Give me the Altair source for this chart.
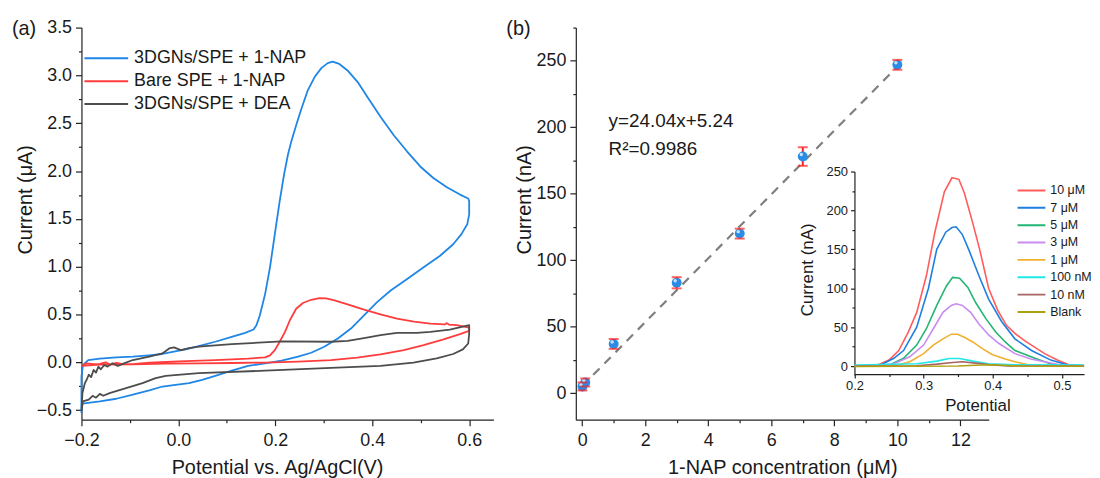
import altair as alt
import pandas as pd

FONT = "Liberation Sans"
INK = "#1a1a1a"

# ---------------- Panel (a): cyclic voltammograms ----------------
cv_names = ["3DGNs/SPE + 1-NAP", "Bare SPE + 1-NAP", "3DGNs/SPE + DEA"]
cv_colors = ["#1f86e6", "#ff3c3c", "#4d4d4d"]

blue_x = [-0.2, -0.2, -0.197, -0.186, -0.162, -0.128, -0.094, -0.06, -0.033, -0.012, 0.015, 0.042,
          0.076, 0.11, 0.138, 0.155, 0.161, 0.168, 0.179, 0.189, 0.199, 0.209, 0.218, 0.226, 0.233,
          0.243, 0.254, 0.267, 0.281, 0.295, 0.308, 0.318, 0.332, 0.349, 0.37, 0.39, 0.417, 0.444,
          0.472, 0.499, 0.526, 0.554, 0.581, 0.598, 0.6, 0.6, 0.596, 0.584, 0.567, 0.54, 0.506,
          0.472, 0.438, 0.41, 0.383, 0.356, 0.329, 0.301, 0.274, 0.247, 0.213, 0.179, 0.144, 0.11,
          0.076, 0.049, 0.022, -0.006, -0.033, -0.06, -0.094, -0.128, -0.162, -0.19, -0.199, -0.2]
blue_y = [-0.53, -0.15, -0.03, 0.024, 0.038, 0.052, 0.059, 0.073, 0.087, 0.11, 0.135, 0.17,
          0.215, 0.266, 0.308, 0.343, 0.388, 0.49, 0.716, 0.993, 1.34, 1.685, 1.962, 2.17, 2.31,
          2.48, 2.654, 2.844, 2.983, 3.076, 3.128, 3.145, 3.12, 3.052, 2.93, 2.775, 2.567, 2.377,
          2.204, 2.048, 1.927, 1.83, 1.754, 1.713, 1.685, 1.547, 1.443, 1.34, 1.235, 1.114, 0.993,
          0.872, 0.751, 0.63, 0.491, 0.353, 0.249, 0.163, 0.1, 0.059, 0.017, -0.01, -0.038, -0.087,
          -0.142, -0.183, -0.218, -0.235, -0.253, -0.294, -0.339, -0.381, -0.408, -0.426, -0.432, -0.53]

red_x = [-0.2, -0.19, -0.175, -0.162, -0.15, -0.14, -0.128, -0.115, -0.094, -0.06, 0.0, 0.076,
         0.144, 0.179, 0.189, 0.199, 0.209, 0.22, 0.23, 0.243, 0.257, 0.274, 0.291, 0.305, 0.322,
         0.349, 0.383, 0.417, 0.451, 0.486, 0.52, 0.55, 0.554, 0.558, 0.574, 0.6, 0.6, 0.581,
         0.547, 0.506, 0.465, 0.417, 0.369, 0.315, 0.247, 0.179, 0.11, 0.042, -0.026, -0.094,
         -0.162, -0.2]
red_y = [-0.038, -0.01, -0.02, -0.017, 0.0, -0.025, -0.005, -0.02, -0.02, -0.003, 0.01, 0.024,
         0.038, 0.052, 0.073, 0.128, 0.215, 0.318, 0.44, 0.56, 0.62, 0.654, 0.671, 0.668, 0.647,
         0.606, 0.55, 0.502, 0.457, 0.426, 0.405, 0.396, 0.41, 0.395, 0.388, 0.363, 0.329, 0.294,
         0.239, 0.18, 0.128, 0.083, 0.048, 0.024, 0.007, -0.003, -0.007, -0.01, -0.014, -0.021,
         -0.024, -0.038]

grey_x = [-0.2, -0.198, -0.193, -0.189, -0.185, -0.18, -0.175, -0.17, -0.165, -0.16, -0.153, -0.146,
          -0.136, -0.125, -0.115, -0.094, -0.06, -0.033, -0.019, -0.009, 0.005, 0.022, 0.042, 0.11,
          0.213, 0.315, 0.349, 0.383, 0.417, 0.451, 0.492, 0.52, 0.56, 0.6, 0.6, 0.598, 0.587,
          0.567, 0.533, 0.485, 0.417, 0.315, 0.179, 0.042, -0.026, -0.047, -0.074, -0.108, -0.142,
          -0.155, -0.162, -0.17, -0.177, -0.185, -0.197, -0.2]
grey_y = [-0.51, -0.32, -0.218, -0.18, -0.13, -0.155, -0.08, -0.107, -0.045, -0.073, -0.028, -0.045,
          -0.01, -0.038, -0.017, 0.024, 0.059, 0.093, 0.145, 0.156, 0.128, 0.149, 0.163, 0.19,
          0.218, 0.215, 0.225, 0.253, 0.284, 0.308, 0.308, 0.318, 0.343, 0.388, 0.301, 0.197, 0.135,
          0.087, 0.042, -0.003, -0.038, -0.059, -0.087, -0.114, -0.142, -0.166, -0.218, -0.27, -0.322,
          -0.35, -0.33, -0.37, -0.35, -0.39, -0.408, -0.51]

a_x_ticks = [-0.2, -0.1, 0.0, 0.1, 0.2, 0.3, 0.4, 0.5, 0.6]
a_x_major = [-0.2, 0.0, 0.2, 0.4, 0.6]
a_y_ticks = [-0.5, -0.25, 0.0, 0.25, 0.5, 0.75, 1.0, 1.25, 1.5, 1.75, 2.0, 2.25, 2.5, 2.75, 3.0, 3.25, 3.5]
a_y_major = [-0.5, 0.0, 0.5, 1.0, 1.5, 2.0, 2.5, 3.0, 3.5]

# ---------------- Panel (b): calibration ----------------
conc = [0.01, 0.1, 1, 3, 5, 7, 10]
current = [5, 8, 37, 83, 120, 178, 247]
err = [3, 3, 3.7, 4.2, 3.7, 7, 3.7]
fit_x = [0, 10]
fit_y = [5.24, 245.64]
eq_text = ["y=24.04x+5.24", "R²=0.9986"]
eq_x = [0.84, 0.84]
eq_y = [204.5, 184]

b_x_ticks = [0, 1, 2, 3, 4, 5, 6, 7, 8, 9, 10, 11, 12]
b_x_major = [0, 2, 4, 6, 8, 10, 12]
b_y_ticks = [0, 25, 50, 75, 100, 125, 150, 175, 200, 225, 250, 275]
b_y_major = [0, 50, 100, 150, 200, 250]

# ---------------- Inset: DPV curves ----------------
dpv_names = ["10 μM", "7 μM", "5 μM", "3 μM", "1 μM", "100 nM", "10 nM", "Blank"]
dpv_colors = ["#ff5c5c", "#1e7fe0", "#22b573", "#c88cf0", "#f0b030", "#20e8e8", "#a86464", "#b0a010"]

p10_x = [0.2, 0.233, 0.25, 0.264, 0.278, 0.29, 0.304, 0.316, 0.33, 0.341, 0.351, 0.359, 0.371,
         0.381, 0.394, 0.407, 0.42, 0.432, 0.447, 0.475, 0.494, 0.511, 0.532]
p10_y = [0, 1, 7.7, 20, 44, 69, 116, 171, 224, 242, 240, 222, 184, 150, 100, 72, 52, 42, 32, 16,
         7.6, 1.3, 0.5]
p7_x = [0.2, 0.238, 0.257, 0.271, 0.29, 0.307, 0.319, 0.332, 0.341, 0.347, 0.356, 0.366, 0.38,
        0.394, 0.413, 0.432, 0.456, 0.484, 0.508, 0.532]
p7_y = [0, 1.3, 10, 20, 50, 100, 150, 172, 178, 179, 169, 148, 116, 86, 57, 35, 20, 7.7, 1.3, 0.5]
p5_x = [0.2, 0.25, 0.271, 0.29, 0.304, 0.319, 0.333, 0.342, 0.352, 0.364, 0.375, 0.39, 0.404,
        0.418, 0.432, 0.461, 0.485, 0.503, 0.532]
p5_y = [0, 1, 10, 27, 48, 78, 103, 114, 113, 101, 82, 61, 44, 31, 20, 10, 2.5, 0.5, 0.3]
p3_x = [0.2, 0.23, 0.257, 0.28, 0.3, 0.314, 0.328, 0.34, 0.347, 0.356, 0.368, 0.38, 0.394, 0.409,
        0.432, 0.455, 0.475, 0.5, 0.532]
p3_y = [0, 0.5, 3, 12, 27, 48, 69, 78, 80, 78, 69, 54, 40, 29, 16, 9, 5.5, 1, 0.3]
p1_x = [0.2, 0.262, 0.28, 0.3, 0.314, 0.328, 0.34, 0.349, 0.359, 0.371, 0.385, 0.399, 0.418,
        0.432, 0.45, 0.47, 0.532]
p1_y = [0, 1.3, 5.5, 16, 27, 35, 41, 41, 37, 31, 22.5, 15, 9, 5.5, 2, 0.5, 0.3]
p100n_x = [0.2, 0.29, 0.319, 0.337, 0.352, 0.371, 0.394, 0.432, 0.532]
p100n_y = [1.3, 3, 6.4, 9.8, 9.8, 6.4, 3, 1.7, 1.3]
p10n_x = [0.2, 0.29, 0.319, 0.342, 0.356, 0.375, 0.399, 0.423, 0.532]
p10n_y = [0, 0.4, 2.5, 4.7, 5.5, 3.8, 1.3, 0, 0]
pblank_x = [0.2, 0.35, 0.375, 0.394, 0.413, 0.44, 0.532]
pblank_y = [-0.5, 0, 1, 1.7, 1, 0, -0.3]

i_x_ticks = [0.2, 0.25, 0.3, 0.35, 0.4, 0.45, 0.5]
i_x_major = [0.2, 0.3, 0.4, 0.5]
i_y_ticks = [0, 25, 50, 75, 100, 125, 150, 175, 200, 225, 250]
i_y_major = [0, 50, 100, 150, 200, 250]

# ---------------- tables ----------------
rows = []
for name, xs, ys in zip(cv_names, [blue_x, red_x, grey_x], [blue_y, red_y, grey_y]):
    for i, (x, y) in enumerate(zip(xs, ys)):
        rows.append({"series": name, "i": i, "x": x, "y": y})
cv_df = pd.DataFrame(rows)

pts_df = pd.DataFrame({"c": conc, "cur": current,
                       "lo": [v - e for v, e in zip(current, err)],
                       "hi": [v + e for v, e in zip(current, err)]})
fit_df = pd.DataFrame({"c": fit_x, "cur": fit_y})
eq_df = pd.DataFrame({"c": eq_x, "cur": eq_y, "t": eq_text})

rows = []
dpv_x = [p10_x, p7_x, p5_x, p3_x, p1_x, p100n_x, p10n_x, pblank_x]
dpv_y = [p10_y, p7_y, p5_y, p3_y, p1_y, p100n_y, p10n_y, pblank_y]
for name, xs, ys in zip(dpv_names, dpv_x, dpv_y):
    for i, (x, y) in enumerate(zip(xs, ys)):
        rows.append({"series": name, "i": i, "pot": x, "nA": y})
dpv_df = pd.DataFrame(rows)


def axis(values, majors, fmt, title, tick=6, minor=3, **kw):
    return alt.Axis(
        values=values,
        labelExpr=f"indexof({majors}, datum.value) >= 0 ? format(datum.value, '{fmt}') : ''",
        tickSize={"condition": {"test": f"indexof({majors}, datum.value) < 0", "value": minor},
                  "value": tick},
        labelOverlap=False, labelFlush=False, grid=False, title=title, **kw)


# ---------------- chart (a) ----------------
a_x = alt.X("x:Q", scale=alt.Scale(domain=[-0.2, 0.65], nice=False, zero=False),
            axis=axis(a_x_ticks, a_x_major, ".1f", "Potential vs. Ag/AgCl(V)",
                      labelPadding=6, titlePadding=8, titleX=197))
a_y = alt.Y("y:Q", scale=alt.Scale(domain=[-0.6, 3.5], nice=False, zero=False),
            axis=axis(a_y_ticks, a_y_major, ".1f", "Current (μA)", labelPadding=4,
                      titleX=-56, titleY=173, titleBaseline="middle"))

chart_a = alt.Chart(cv_df).mark_line(strokeWidth=1.8, strokeJoin="round").encode(
    x=a_x, y=a_y,
    color=alt.Color("series:N", scale=alt.Scale(domain=cv_names, range=cv_colors),
                    legend=alt.Legend(orient="none", legendX=2, legendY=21, title=None,
                                      symbolType="stroke", symbolSize=44 * 44,
                                      symbolStrokeWidth=2, labelFontSize=18, labelFont=FONT,
                                      labelColor=INK, clipHeight=20, rowPadding=3,
                                      labelOffset=5, padding=0, labelLimit=0)),
    order="i:Q",
).properties(width=415, height=395,
             title=alt.TitleParams("(a)", anchor="start", frame="group", dx=-70, dy=36,
                                   fontSize=20, font=FONT, fontWeight="normal", color=INK,
                                   baseline="alphabetic", offset=0))

# ---------------- chart (b) ----------------
def bx(field="c"):
    return alt.X(f"{field}:Q", scale=alt.Scale(domain=[-0.2, 12.9], nice=False, zero=False),
                 axis=axis(b_x_ticks, b_x_major, "d", "1-NAP concentration (μM)",
                           labelPadding=6, titlePadding=8))


def by(field="cur"):
    return alt.Y(f"{field}:Q", scale=alt.Scale(domain=[-20, 275], nice=False, zero=False),
                 axis=axis(b_y_ticks, b_y_major, "d", "Current (nA)", labelPadding=4,
                           titleX=-52, titleY=173, titleBaseline="middle"))


RED = "#ff1f1f"
fit = alt.Chart(fit_df).mark_line(color="#7f7f7f", strokeWidth=2.2, strokeDash=[9, 7]).encode(
    x=bx(), y=by())
bars = alt.Chart(pts_df).mark_rule(color=RED, strokeWidth=2).encode(x=bx(), y=by("lo"), y2="hi:Q")
dots = alt.Chart(pts_df).mark_circle(size=100, color="#2b8ce6", opacity=1).encode(x=bx(), y=by())
shine = alt.Chart(pts_df).mark_circle(size=12, color="white", opacity=0.75,
                                      xOffset=-1.5, yOffset=-2).encode(x=bx(), y=by())
cap_lo = alt.Chart(pts_df).mark_tick(color=RED, orient="horizontal", size=10, thickness=2).encode(
    x=bx(), y=by("lo"))
cap_hi = alt.Chart(pts_df).mark_tick(color=RED, orient="horizontal", size=10, thickness=2).encode(
    x=bx(), y=by("hi"))
eq = alt.Chart(eq_df).mark_text(align="left", baseline="middle", fontSize=19, font=FONT,
                                color=INK).encode(x=bx(), y=by(), text="t:N")
base_b = alt.layer(fit, bars, dots, shine, cap_lo, cap_hi, eq)

i_x = alt.X("pot:Q", scale=alt.Scale(domain=[0.2, 0.532], range=[280.7, 512], nice=False, zero=False),
            axis=axis(i_x_ticks, i_x_major, ".1f", "Potential", tick=4, minor=2.5,
                      orient="bottom", offset=-46, labelFontSize=13, titleFontSize=17,
                      labelPadding=2, titleX=404.6, titleY=37, titleBaseline="alphabetic"))
i_y = alt.Y("nA:Q", scale=alt.Scale(domain=[-11.5, 250], range=[350, 145], nice=False, zero=False),
            axis=axis(i_y_ticks, i_y_major, "d", "Current (nA)", tick=4, minor=2.5,
                      orient="left", offset=-280.7, labelFontSize=13, titleFontSize=17,
                      labelPadding=3, titleX=-47.7, titleY=243.5, titleBaseline="middle"))
inset = alt.Chart(dpv_df).mark_line(strokeWidth=1.6).encode(
    x=i_x, y=i_y,
    color=alt.Color("series:N", scale=alt.Scale(domain=dpv_names, range=dpv_colors),
                    legend=alt.Legend(orient="none", legendX=444, legendY=157, title=None,
                                      symbolType="stroke", symbolSize=28 * 28,
                                      symbolStrokeWidth=2, labelFontSize=12.5, labelFont=FONT,
                                      labelColor=INK, clipHeight=14, rowPadding=3.5,
                                      labelOffset=4, padding=0, labelLimit=0)),
    order="i:Q",
)

chart_b = alt.layer(base_b, inset).resolve_scale(x="independent", y="independent").properties(
    width=416, height=395,
    title=alt.TitleParams("(b)", anchor="start", frame="group", dx=-70, dy=36,
                          fontSize=20, font=FONT, fontWeight="normal", color=INK,
                          baseline="alphabetic", offset=0))

chart = alt.hconcat(chart_a, chart_b, spacing=13).resolve_scale(color="independent").properties(
    padding={"left": 4, "top": 9, "right": 0, "bottom": 0}
).configure_view(stroke=None).configure_axis(
    labelFont=FONT, titleFont=FONT, labelFontSize=18, titleFontSize=20, titleFontWeight="normal",
    labelColor=INK, titleColor=INK, domainColor="#222", tickColor="#222",
    domainWidth=1.2, tickWidth=1.2,
)

chart.save("out.html", embed_options={"renderer": "svg", "actions": False})
